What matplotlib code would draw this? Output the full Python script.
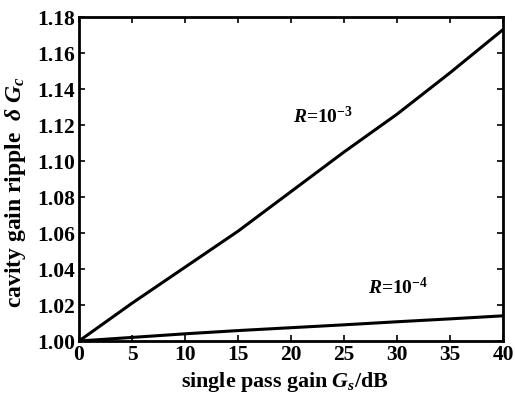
import matplotlib
matplotlib.use("Agg")
import matplotlib.pyplot as plt

# single pass gain (dB)
gain_db = [0, 5, 10, 15, 20, 25, 30, 35, 40]

# cavity gain ripple
ripple_r3 = [1.000, 1.021, 1.041, 1.061, 1.083, 1.105, 1.126, 1.149, 1.173]
ripple_r4 = [1.000, 1.002, 1.004, 1.0058, 1.0074, 1.009, 1.0107, 1.0123, 1.014]

xticks = [0, 5, 10, 15, 20, 25, 30, 35, 40]
yticks = [1.00, 1.02, 1.04, 1.06, 1.08, 1.10, 1.12, 1.14, 1.16, 1.18]

plt.rcParams['font.family'] = ['Liberation Serif', 'DejaVu Serif']
plt.rcParams['font.weight'] = 'bold'
plt.rcParams['axes.labelweight'] = 'bold'
plt.rcParams['mathtext.fontset'] = 'custom'
plt.rcParams['mathtext.rm'] = 'Liberation Serif:bold'
plt.rcParams['mathtext.it'] = 'Liberation Serif:italic:bold'

fig = plt.figure(figsize=(5.15, 4.03), dpi=100)
ax = fig.add_axes([0.1534, 0.1538, 0.8233, 0.804])

ax.plot(gain_db, ripple_r3, color='black', linewidth=2.2)
ax.plot(gain_db, ripple_r4, color='black', linewidth=2.2)

ax.set_xlim(0, 40)
ax.set_ylim(1.00, 1.18)
ax.set_xticks(xticks)
ax.set_yticks(yticks)
ax.set_xticklabels([str(t) for t in xticks])
ax.set_yticklabels(["%.2f" % t for t in yticks])
ax.tick_params(direction='in', length=4, width=1.2, top=True, right=True,
               labelsize=15.5, pad=3)
for s in ax.spines.values():
    s.set_linewidth(2.0)

ax.text(20.2, 1.1245, r"$\mathit{R}$=10$^{-3}$", fontsize=14, va='center', ha='left')
ax.text(27.3, 1.030, r"$\mathit{R}$=10$^{-4}$", fontsize=14, va='center', ha='left')

ax.set_xlabel(r"single pass gain $\mathit{G_s}$/dB", fontsize=15.8)
ax.xaxis.set_label_coords(0.485, -0.09)
ax.set_ylabel(r"cavity gain ripple  $\delta\ \mathit{G_c}$", fontsize=17)
ax.yaxis.set_label_coords(-0.12, 0.46)

fig.savefig("out.png", dpi=100)
